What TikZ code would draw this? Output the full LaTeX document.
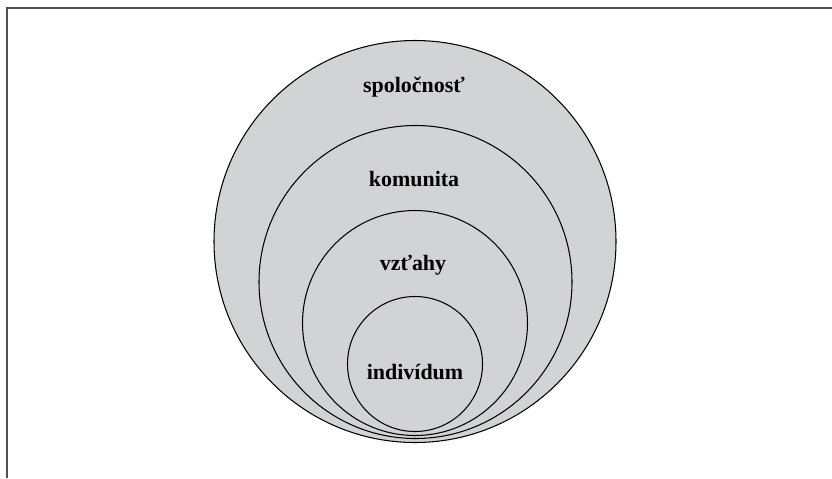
\documentclass[tikz,border=0pt]{standalone}
\usepackage{fontspec}
\setmainfont{Liberation Serif}
\definecolor{ringgray}{RGB}{209,211,212}
\definecolor{framegray}{RGB}{80,80,80}
\tikzset{
  ring/.style={circle,draw=black,fill=ringgray,line width=0.6pt,inner sep=0pt},
  word/.style={font=\bfseries\fontsize{12.5}{15}\selectfont,inner sep=0pt}
}

\begin{document}
\begin{tikzpicture}[x=0.02cm,y=-0.02cm]
  \useasboundingbox (0,0) rectangle (832,478);
  % frame
  \draw[framegray,line width=0.85pt] (7,478) -- (7,8) -- (832,8);
  % rings, outer first
  \node[ring,minimum size=402*0.02cm] (spol) at (415,241.5) {};
  \node[ring,minimum size=313*0.02cm] (komu) at (415.5,282) {};
  \node[ring,minimum size=225*0.02cm] (vzta) at (415,323) {};
  \node[ring,minimum size=135*0.02cm] (indi) at (415,364) {};
  % labels
  \node[word] (tspol) at (414,87)  {spoločnosť};
  \node[word] (tkomu) at (414,179) {komunita};
  \node[word] (tvzta) at (413,265) {vzťahy};
  \node[word] (tindi) at (415,372) {indivídum};
\end{tikzpicture}
\end{document}
